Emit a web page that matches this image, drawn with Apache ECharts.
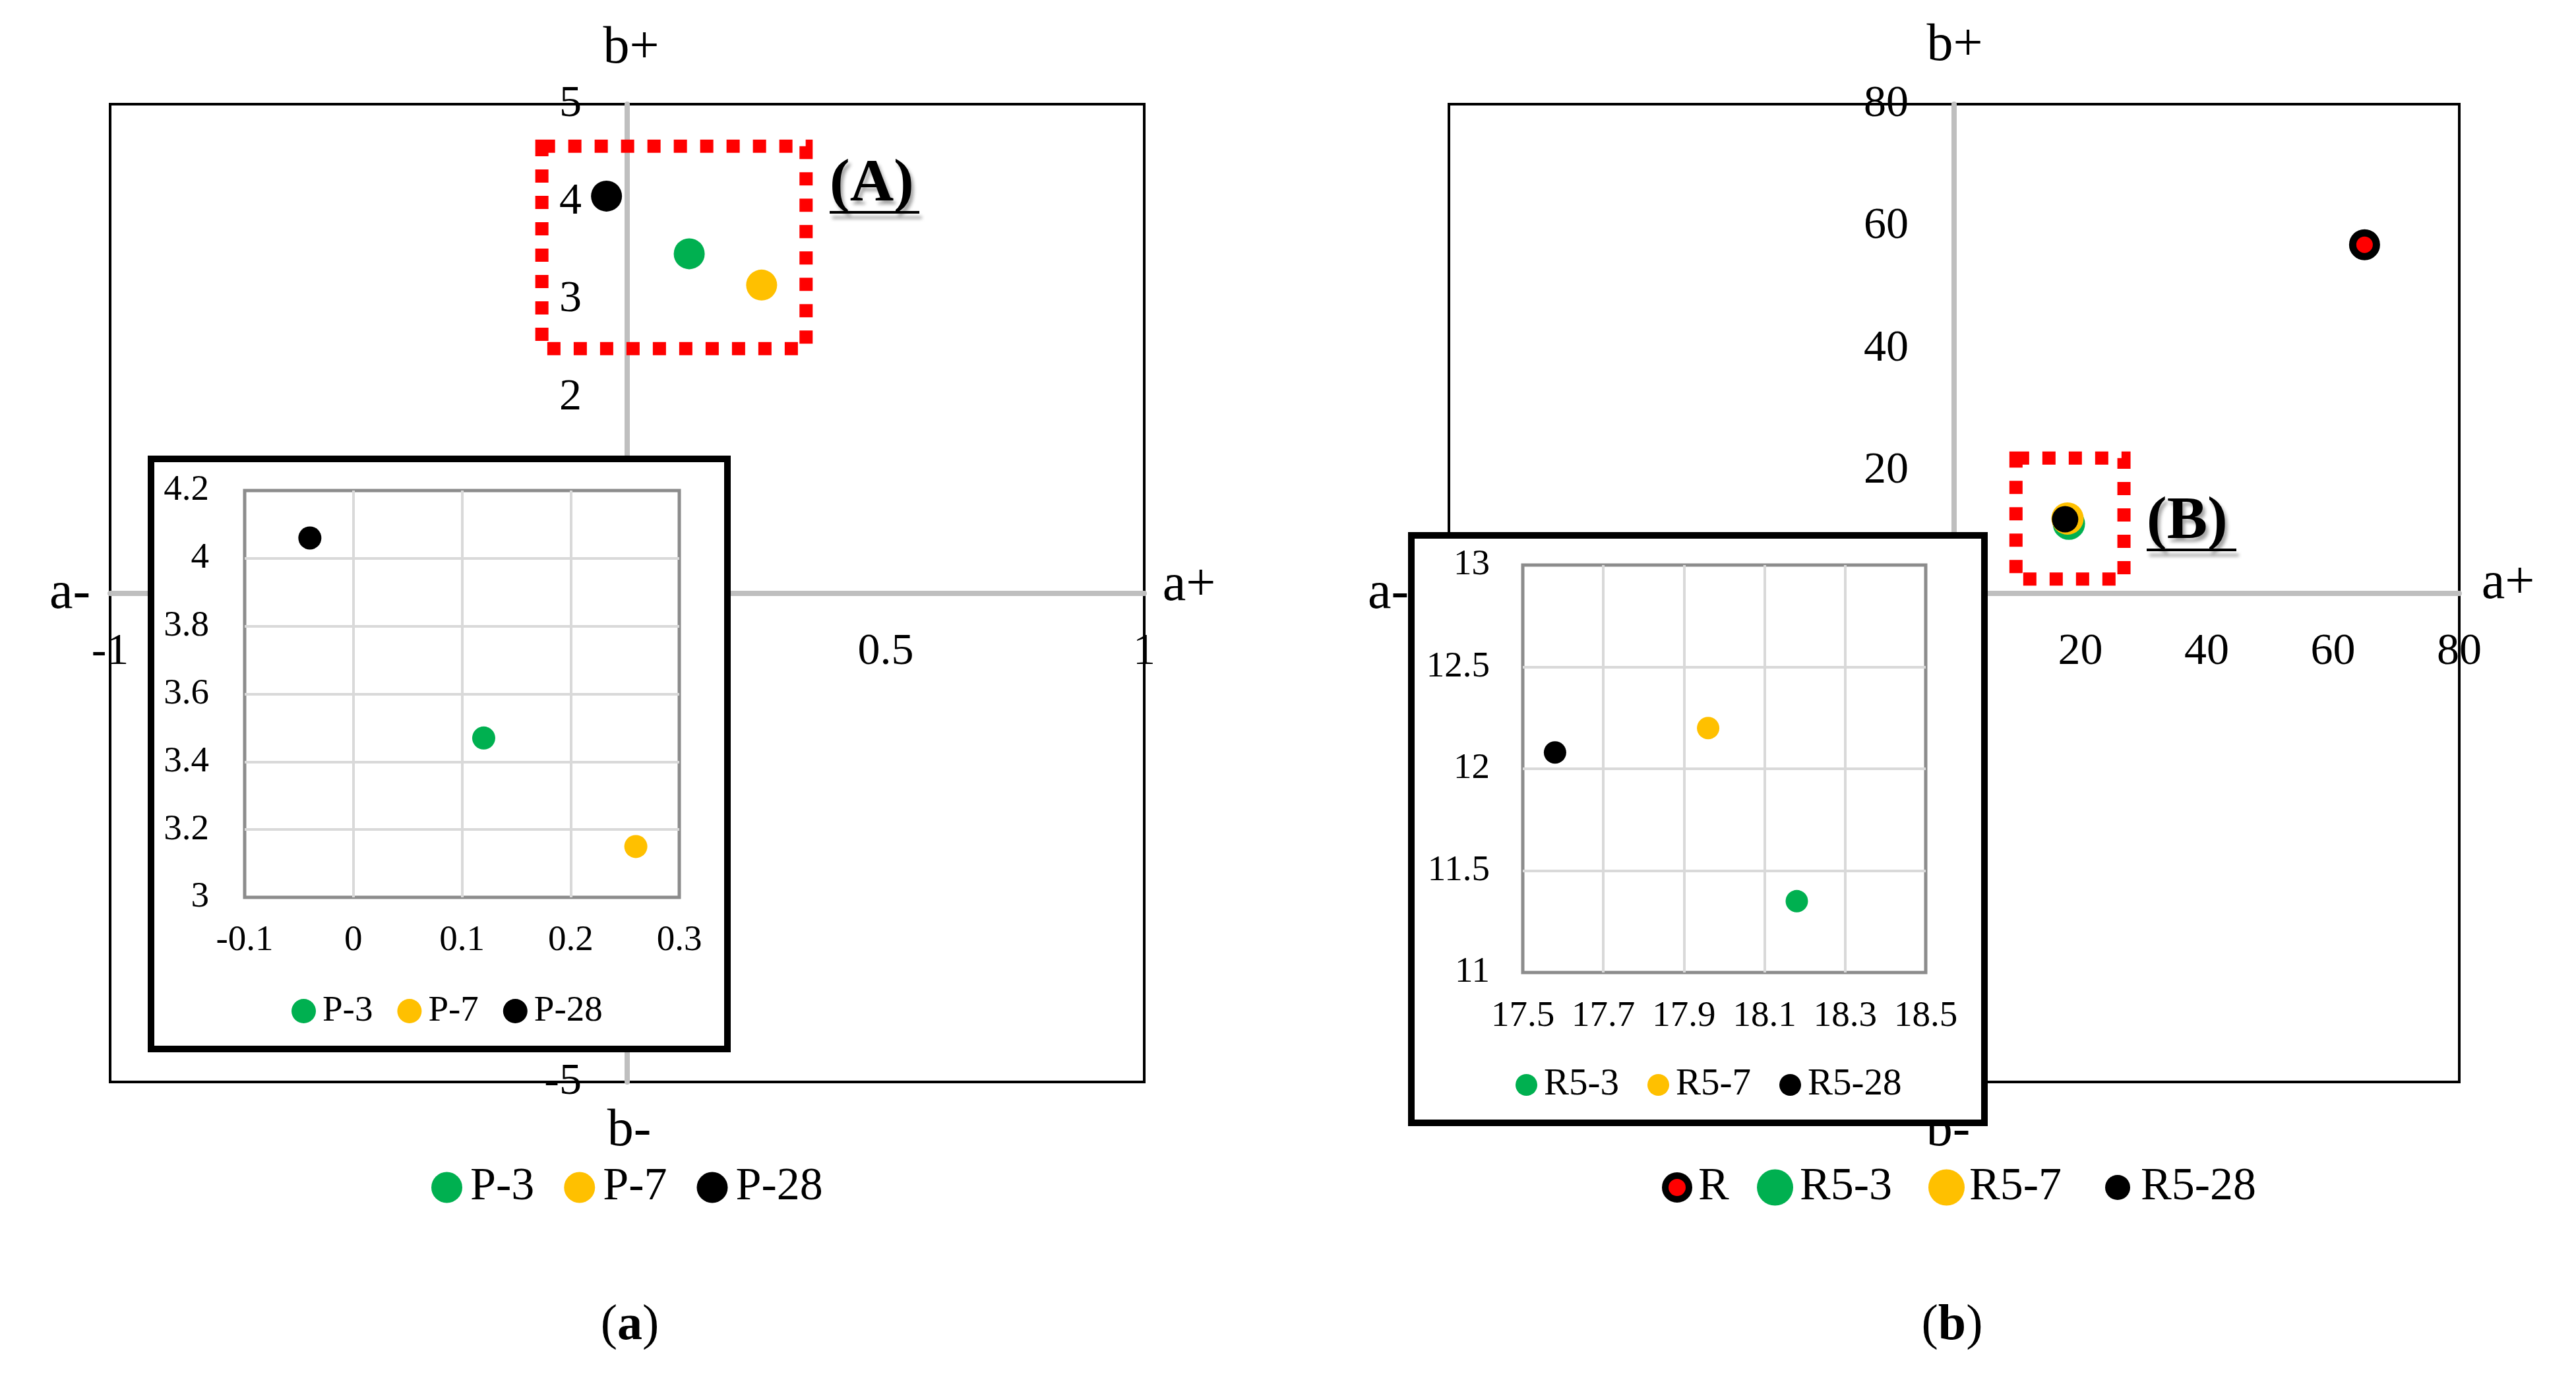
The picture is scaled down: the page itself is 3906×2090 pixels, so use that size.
<!DOCTYPE html>
<html><head><meta charset="utf-8">
<script src="https://cdn.jsdelivr.net/npm/echarts@6/dist/echarts.min.js"></script>
<style>html,body{margin:0;padding:0;background:#fff}#c{width:3906px;height:2090px}</style>
</head><body><div id="c"></div>
<script>
// ---------- data ----------
const namesA = ['P-3', 'P-7', 'P-28'];
const aValA = [0.12, 0.26, -0.04];
const bValA = [3.47, 3.15, 4.06];

const namesB = ['R', 'R5-3', 'R5-7', 'R5-28'];
const aValB = [65, 18.18, 17.96, 17.58];
const bValB = [57, 11.35, 12.20, 12.08];

const ticksMainAx = [-1, -0.5, 0, 0.5, 1];
const ticksMainAy = [-5, -4, -3, -2, -1, 0, 1, 2, 3, 4, 5];
const ticksInsetAx = [-0.1, 0, 0.1, 0.2, 0.3];
const ticksInsetAy = [3, 3.2, 3.4, 3.6, 3.8, 4, 4.2];
const ticksMainBx = [-80, -60, -40, -20, 0, 20, 40, 60, 80];
const ticksMainBy = [-80, -60, -40, -20, 0, 20, 40, 60, 80];
const ticksInsetBx = [17.5, 17.7, 17.9, 18.1, 18.3, 18.5];
const ticksInsetBy = [11, 11.5, 12, 12.5, 13];

// zoom-region annotation boxes (data coords)
const zoomBoxA = [[-0.165, 4.57], [0.346, 2.50]];
const zoomBoxB = [[9.8, 22.1], [26.9, 2.3]];

// ---------- styles / layout ----------
const FONT = 'Liberation Serif';
const colors = { 'P-3': '#00B050', 'P-7': '#FFC000', 'P-28': '#000000',
  'R5-3': '#00B050', 'R5-7': '#FFC000', 'R5-28': '#000000', 'R': '#FF0000' };
const grids = [
  { left: 167, top: 158, width: 1568, height: 1483 },
  { left: 371, top: 744, width: 659, height: 617 },
  { left: 2197, top: 158, width: 1532, height: 1483 },
  { left: 2309, top: 857, width: 611, height: 618 }
];

function rng(t) { return { min: t[0], max: t[t.length - 1], interval: +(t[1] - t[0]).toFixed(6) }; }

// main axes cross at zero: shift the axis (line + labels) inward to the zero position
function mainAxis(t, idx, isX) {
  const r = rng(t);
  const g = grids[idx];
  const frac = (0 - r.min) / (r.max - r.min);
  const o = {
    type: 'value', gridIndex: idx, min: r.min, max: r.max, interval: r.interval,
    position: isX ? 'bottom' : 'left',
    offset: isX ? -g.height * frac : -g.width * frac,
    axisLine: { show: true, onZero: false, lineStyle: { color: '#BFBFBF', width: 8 } },
    axisTick: { show: false }, splitLine: { show: false },
    axisLabel: { color: '#000', fontFamily: FONT, fontSize: 68, showMinLabel: true, showMaxLabel: true }
  };
  if (isX) { o.axisLabel.margin = 90; o.axisLabel.verticalAlign = 'middle'; }
  else { o.axisLabel.margin = 69; }
  return o;
}
function insetAxis(t, idx, isX, margin) {
  const r = rng(t);
  const o = {
    type: 'value', gridIndex: idx, min: r.min, max: r.max, interval: r.interval, z: 20,
    axisLine: { show: false }, axisTick: { show: false },
    splitLine: { show: true, showMinLine: false, showMaxLine: false, lineStyle: { color: '#D9D9D9', width: 4 } },
    axisLabel: { color: '#000', fontFamily: FONT, fontSize: 55, margin: margin, showMinLabel: true, showMaxLabel: true }
  };
  if (isX) o.axisLabel.verticalAlign = 'middle';
  return o;
}

const series = [];
const boxStyle = { color: 'rgba(0,0,0,0)', borderColor: '#FF0000', borderWidth: 20, borderType: [20, 20], opacity: 1 };
// main (a)
namesA.forEach((n, i) => {
  const s = { name: n, type: 'scatter', xAxisIndex: 0, yAxisIndex: 0, symbol: 'circle', symbolSize: 47,
    itemStyle: { color: colors[n], opacity: 1 }, data: [[aValA[i], bValA[i]]], z: 3 };
  if (i === 0) s.markArea = { silent: true, itemStyle: boxStyle, data: [[{ coord: zoomBoxA[0] }, { coord: zoomBoxA[1] }]] };
  series.push(s);
});
// inset (a)
namesA.forEach((n, i) => {
  series.push({ name: n, type: 'scatter', xAxisIndex: 1, yAxisIndex: 1, symbol: 'circle', symbolSize: 35,
    itemStyle: { color: colors[n], opacity: 1 }, data: [[aValA[i], bValA[i]]], z: 21 });
});
// main (b)
const mainBSize = [36, 49, 49, 40];
namesB.forEach((n, i) => {
  const s = { name: n, type: 'scatter', xAxisIndex: 2, yAxisIndex: 2, symbol: 'circle', symbolSize: mainBSize[i],
    itemStyle: n === 'R' ? { color: '#FF0000', borderColor: '#000', borderWidth: 11, opacity: 1 } : { color: colors[n], opacity: 1 },
    data: [[aValB[i], bValB[i]]], z: 3 };
  if (i === 1) s.markArea = { silent: true, itemStyle: boxStyle, data: [[{ coord: zoomBoxB[0] }, { coord: zoomBoxB[1] }]] };
  series.push(s);
});
// inset (b)
namesB.forEach((n, i) => {
  if (n === 'R') return;
  series.push({ name: n, type: 'scatter', xAxisIndex: 3, yAxisIndex: 3, symbol: 'circle', symbolSize: 34,
    itemStyle: { color: colors[n], opacity: 1 }, data: [[aValB[i], bValB[i]]], z: 21 });
});

function lg(names, left, top, size, gap, fs, pad, extra) {
  return Object.assign({ data: names, left: left, top: top, orient: 'horizontal', icon: 'circle',
    itemWidth: size, itemHeight: size, itemGap: gap, selectedMode: false,
    itemStyle: { opacity: 1 },
    textStyle: { fontFamily: FONT, fontSize: fs, color: '#000', padding: [0, 0, 0, pad] } }, extra || {});
}

function txt(text, x, y, fs, z, extra) {
  return { type: 'text', x: x, y: y, z: z || 1,
    style: Object.assign({ text: text, fill: '#000', fontFamily: FONT, fontSize: fs, textAlign: 'center', textVerticalAlign: 'middle' }, extra || {}) };
}
function tag(text, x, y) {
  return [
    txt(text, x, y, 92, 5, { fontWeight: 'bold', textAlign: 'left', textShadowColor: 'rgba(0,0,0,0.35)', textShadowBlur: 5, textShadowOffsetX: 4, textShadowOffsetY: 6 }),
    { type: 'line', z: 5, shape: { x1: x, y1: y + 42, x2: x + 136, y2: y + 42 },
      style: { stroke: '#000', lineWidth: 4, shadowColor: 'rgba(0,0,0,0.35)', shadowBlur: 5, shadowOffsetX: 4, shadowOffsetY: 8 } }
  ];
}
const capRich = { n: { fontFamily: FONT, fontSize: 76, color: '#000' }, b: { fontFamily: FONT, fontSize: 76, fontWeight: 'bold', color: '#000' } };

const option = {
  backgroundColor: '#fff',
  animation: false,
  grid: [
    Object.assign({ show: true, borderColor: '#000', borderWidth: 4, backgroundColor: 'rgba(0,0,0,0)' }, grids[0]),
    Object.assign({ show: true, borderColor: '#8C8C8C', borderWidth: 5, backgroundColor: '#fff', z: 20 }, grids[1]),
    Object.assign({ show: true, borderColor: '#000', borderWidth: 4, backgroundColor: 'rgba(0,0,0,0)' }, grids[2]),
    Object.assign({ show: true, borderColor: '#8C8C8C', borderWidth: 5, backgroundColor: '#fff', z: 20 }, grids[3])
  ],
  xAxis: [mainAxis(ticksMainAx, 0, true), insetAxis(ticksInsetAx, 1, true, 66), mainAxis(ticksMainBx, 2, true), insetAxis(ticksInsetBx, 3, true, 67)],
  yAxis: [mainAxis(ticksMainAy, 0, false), insetAxis(ticksInsetAy, 1, false, 54), mainAxis(ticksMainBy, 2, false), insetAxis(ticksInsetBy, 3, false, 50)],
  legend: [
    lg(namesA, 649, 1761, 47, 45, 70, 7),
    lg(namesA, 437, 1501, 37, 37, 55, 5, { z: 25 }),
    lg(['R'], 2515, 1761, 36, 10, 70, 9, { itemStyle: { borderWidth: 10, borderColor: '#000', opacity: 1 } }),
    lg(['R5-3'], 2659, 1761, 55, 10, 70, 5),
    lg(['R5-7'], 2919, 1761, 55, 10, 70, 2),
    lg(['R5-28'], 3187, 1761, 38, 10, 70, 11),
    lg(['R5-3', 'R5-7', 'R5-28'], 2293, 1612, 33, 43, 57, 5, { z: 25 })
  ],
  graphic: [
    // inset frames
    { type: 'rect', z: 10, shape: { x: 229, y: 696, width: 874, height: 895 }, style: { fill: '#fff', stroke: '#000', lineWidth: 10 } },
    { type: 'rect', z: 10, shape: { x: 2140, y: 812, width: 869, height: 891 }, style: { fill: '#fff', stroke: '#000', lineWidth: 10 } },
    // axis direction labels (a)
    txt('b+', 957, 74, 80), txt('b-', 954, 1716, 80), txt('a-', 106, 901, 80), txt('a+', 1803, 889, 80),
    // axis direction labels (b)
    txt('b+', 2964, 70, 80), txt('b-', 2954, 1716, 80), txt('a-', 2105, 901, 80), txt('a+', 3803, 886, 80),
    ...tag('(A)', 1258, 280),
    ...tag('(B)', 3255, 792),
    { type: 'text', x: 955, y: 2011, z: 1, style: { text: '{n|(}{b|a}{n|)}', rich: capRich, textAlign: 'center', textVerticalAlign: 'middle' } },
    { type: 'text', x: 2960, y: 2011, z: 1, style: { text: '{n|(}{b|b}{n|)}', rich: capRich, textAlign: 'center', textVerticalAlign: 'middle' } }
  ],
  series: series
};

const chart = echarts.init(document.getElementById('c'), null, { renderer: 'canvas' });
chart.setOption(option);
</script>
</body></html>
